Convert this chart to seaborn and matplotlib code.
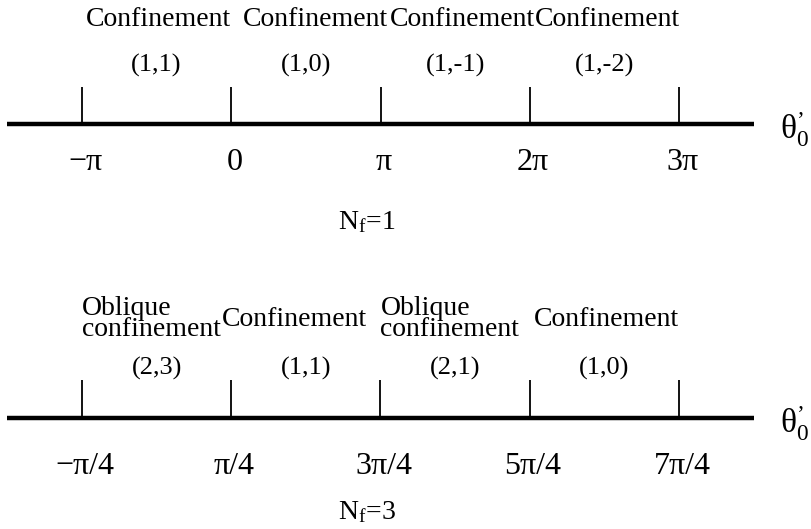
"""Phase diagram along theta_0' for N_f = 1 and N_f = 3."""
import matplotlib

matplotlib.use("Agg")
import matplotlib.pyplot as plt
import seaborn as sns

sns.set_theme(style="white")
plt.rcParams["font.family"] = ["Liberation Serif", "DejaVu Serif"]
plt.rcParams["text.color"] = "black"
plt.rcParams["mathtext.fontset"] = "custom"
plt.rcParams["mathtext.rm"] = "Liberation Serif"
plt.rcParams["mathtext.it"] = "Liberation Serif:italic"

# N_f = 1 : tick positions in units of pi
top_ticks = [-1, 0, 1, 2, 3]
top_tick_labels = ["−π", "0", "π", "2π", "3π"]
top_phases = ["Confinement", "Confinement", "Confinement", "Confinement"]
top_charges = ["(1,1)", "(1,0)", "(1,-1)", "(1,-2)"]
top_nf = r"N$_{\mathrm{f}}$=1"

# N_f = 3
bot_ticks = [-0.25, 0.25, 0.75, 1.25, 1.75]
bot_tick_labels = ["−π/4", "π/4", "3π/4", "5π/4", "7π/4"]
bot_phases = ["Oblique\nconfinement", "Confinement", "Oblique\nconfinement", "Confinement"]
bot_charges = ["(2,3)", "(1,1)", "(2,1)", "(1,0)"]
bot_nf = r"N$_{\mathrm{f}}$=3"

W, H = 811, 529
TICK_PX = 149.25  # pixels between neighbouring ticks
FIRST_PX = 82     # pixel column of the first tick


def draw_panel(ax, ticks, tick_labels, phases, charges, nf_label,
               phase_y, charge_y, tick_h, label_y, nf_y, phase_dx):
    step = ticks[1] - ticks[0]
    px = step / TICK_PX
    x0 = ticks[0] - FIRST_PX * px
    ax.set_xlim(x0, x0 + W * px)

    # main axis line, half a step beyond the outer ticks
    sns.lineplot(x=[ticks[0] - step / 2, ticks[-1] + step / 2], y=[0, 0],
                 ax=ax, color="black", linewidth=3.2, solid_capstyle="butt")
    ax.vlines(ticks, 0, tick_h, color="black", linewidth=1.3)

    for x, lab in zip(ticks, tick_labels):
        ax.text(x + 3 * px, label_y, lab, ha="center", va="center", fontsize=23)

    mids = [(a + b) / 2 for a, b in zip(ticks[:-1], ticks[1:])]
    for left, mid, ph, ch, dx in zip(ticks[:-1], mids, phases, charges, phase_dx):
        if "\n" in ph:
            ax.text(left, phase_y, ph, ha="left", va="center", fontsize=20,
                    linespacing=0.8)
        else:
            ax.text(mid + dx * px, phase_y, ph, ha="center", va="center",
                    fontsize=20)
        ax.text(mid, charge_y, ch, ha="center", va="center", fontsize=19)

    ax.text(ticks[-1] + step / 2 + 26 * px, -6, "θ$_{0}^{\\mathrm{’}}$",
            ha="left", va="center", fontsize=24)
    mid_all = (ticks[0] + ticks[-1]) / 2
    ax.text(mid_all - 14 * px, nf_y, nf_label, ha="center", va="center",
            fontsize=20)
    ax.axis("off")


fig = plt.figure(figsize=(W / 100, H / 100), dpi=100)

# top band: pixels 0..265, line at 124
ax1 = fig.add_axes([0, (H - 265) / H, 1, 265 / H])
ax1.set_ylim(-(265 - 124), 124)
draw_panel(ax1, top_ticks, top_tick_labels, top_phases, top_charges, top_nf,
           phase_y=104, charge_y=59, tick_h=37, label_y=-38, nf_y=-98,
           phase_dx=[1.5, 10, 7, 3])

# bottom band: pixels 265..529, line at 418
ax2 = fig.add_axes([0, 0, 1, 264 / H])
ax2.set_ylim(-(264 - 153), 153)
draw_panel(ax2, bot_ticks, bot_tick_labels, bot_phases, bot_charges, bot_nf,
           phase_y=99, charge_y=50, tick_h=38, label_y=-49, nf_y=-94,
           phase_dx=[0, -11, 0, 2])

fig.savefig("out.png", dpi=100)
